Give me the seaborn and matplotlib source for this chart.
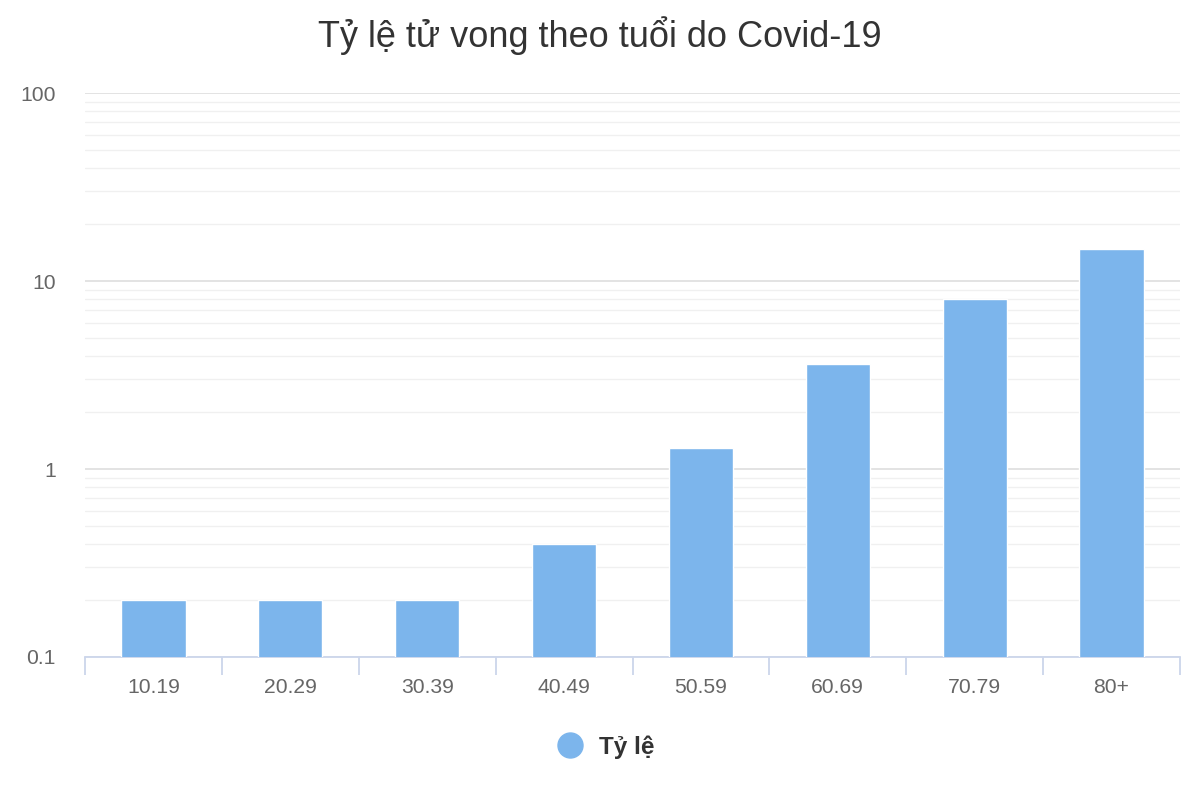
import matplotlib
matplotlib.use("Agg")
import matplotlib.pyplot as plt
from matplotlib.lines import Line2D
from matplotlib.ticker import FixedLocator, NullFormatter, LogLocator
import seaborn as sns
import numpy as np

categories = ["10.19", "20.29", "30.39", "40.49", "50.59", "60.69", "70.79", "80+"]
values = [0.2, 0.2, 0.2, 0.4, 1.3, 3.6, 8.0, 14.8]
y_ticks = [0.1, 1, 10, 100]
y_tick_labels = ["0.1", "1", "10", "100"]
title = "Tỷ lệ tử vong theo tuổi do Covid-19"
series_name = "Tỷ lệ"

sns.set_theme(style="white")
plt.rcParams['font.family'] = ['Liberation Sans', 'DejaVu Sans']

fig = plt.figure(figsize=(12, 8), dpi=100)
ax = fig.add_axes([85/1200, 1-657/800, (1180-85)/1200, (657-93)/800])

sns.barplot(x=categories, y=values, color="#7cb5ec", width=0.47,
            saturation=1, ax=ax, zorder=3)
ax.set_yscale("log")
ax.set_ylim(0.1, 100)
ax.set_xlim(-0.5, len(categories) - 0.5)

ax.yaxis.set_major_locator(FixedLocator(y_ticks))
ax.set_yticklabels(y_tick_labels)
ax.yaxis.set_minor_locator(LogLocator(base=10, subs=np.arange(2, 10)))
ax.yaxis.set_minor_formatter(NullFormatter())
ax.grid(True, which="major", axis="y", color="#e0e0e0", linewidth=1.3, zorder=0)
ax.grid(True, which="minor", axis="y", color="#f0f0f0", linewidth=1.0, zorder=0)
ax.tick_params(axis="y", which="both", length=0, labelsize=15.2,
               labelcolor="#666666", pad=21)

ax.xaxis.set_minor_locator(FixedLocator(np.arange(-0.5, len(categories), 1.0)))
ax.tick_params(axis="x", which="major", bottom=True, length=0, labelsize=15.2,
               labelcolor="#666666", pad=15)
ax.tick_params(axis="x", which="minor", bottom=True, length=13, width=1.3,
               color="#ccd6eb", direction="out")

for side in ["top", "right", "left"]:
    ax.spines[side].set_visible(False)
ax.spines["bottom"].set_color("#ccd6eb")
ax.spines["bottom"].set_linewidth(1.3)
ax.set_xlabel("")
ax.set_ylabel("")

fig.text(0.5, 1 - 36/800, title, ha="center", va="center",
         fontsize=26, color="#333333")

handle = Line2D([0], [0], marker="o", linestyle="none", markersize=18,
                markerfacecolor="#7cb5ec", markeredgecolor="#7cb5ec")
fig.legend([handle], [series_name], loc="center", bbox_to_anchor=(0.5, 1 - 747/800),
           frameon=False, handletextpad=0.2,
           prop={"size": 17.5, "weight": "bold"}, labelcolor="#333333")

fig.savefig("out.png", dpi=100)
